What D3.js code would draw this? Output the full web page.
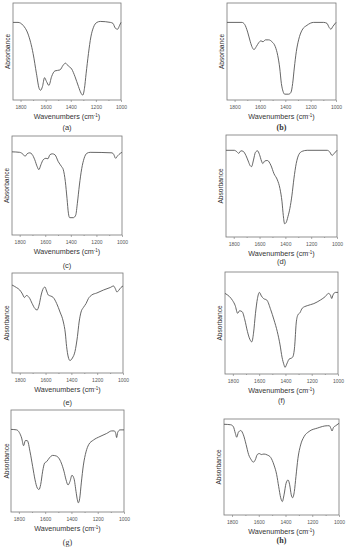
<!DOCTYPE html>
<html>
<head>
  <meta charset="UTF-8" />
  <script src="https://d3js.org/d3.v7.min.js"></script>
  <style>
    body { margin: 0; background: #fff; }
    text { font-family: Arial, "Liberation Sans", sans-serif; }
  </style>
</head>
<body>
  <script>
    // spectra: [wavenumber, relative signal (0 = bottom of frame, 100 = top)]
    var spectrumA = [[1860,80],[1820,80],[1780,77],[1740,68],[1700,48],[1673,27],[1652,12],[1641,10],[1625,14],[1609,23],[1593,19],[1574,15],[1553,24],[1526,30],[1486,31],[1460,36],[1443,38],[1419,35],[1393,32],[1366,24],[1339,14],[1318,7],[1304,5],[1291,12],[1278,27],[1259,48],[1240,65],[1219,75],[1192,80],[1165,81],[1085,80],[1064,79],[1045,74],[1027,73],[1011,77],[1000,80]];
    var spectrumB = [[1860,80],[1742,80],[1721,78],[1697,70],[1676,60],[1660,54],[1647,52],[1629,55],[1610,59],[1592,61],[1576,60],[1557,62],[1531,62],[1505,60],[1479,55],[1460,46],[1444,33],[1431,17],[1418,9],[1405,6],[1373,6],[1355,8],[1342,17],[1329,33],[1313,50],[1295,62],[1268,72],[1229,77],[1176,80],[1097,80],[1071,79],[1055,75],[1040,73],[1024,76],[1000,80]];
    var spectrumC = [[1860,84],[1800,83.5],[1773,81.5],[1758,79.5],[1742,82],[1721,83],[1703,81.5],[1682,76],[1663,69],[1650,66],[1634,71],[1616,76],[1595,77.5],[1579,77],[1564,81],[1545,82],[1524,81],[1498,74],[1472,69],[1459,66],[1443,54],[1430,37],[1419,22],[1409,17.5],[1380,17.5],[1362,20],[1349,32],[1333,50.5],[1315,67],[1296,77.5],[1275,82.5],[1249,83.5],[1078,83],[1065,81.5],[1050,77.5],[1034,80],[1013,82.5],[1000,83.5]];
    var spectrumD = [[1860,85],[1796,85],[1775,83.5],[1762,82],[1744,84.5],[1727,84],[1706,80],[1688,74.5],[1673,70],[1662,69],[1647,75.5],[1632,83],[1616,84.5],[1601,81],[1585,74.5],[1575,72],[1560,74.5],[1539,75],[1513,70.5],[1488,62],[1462,56],[1442,47.5],[1426,34.5],[1416,21],[1406,13],[1395,14],[1380,20],[1365,28],[1349,41],[1334,57],[1316,72],[1295,81],[1270,84],[1231,85],[1077,85],[1057,83.5],[1038,80],[1021,82],[1000,85]];
    var spectrumE = [[1860,88],[1826,85.5],[1800,83],[1779,79],[1764,75.5],[1748,77.5],[1727,75.5],[1704,69.5],[1683,64.5],[1665,63],[1650,68],[1634,78],[1618,84.5],[1605,86],[1592,82],[1579,78],[1561,77],[1540,75.5],[1514,69.5],[1488,61],[1462,51],[1447,40],[1437,26.5],[1424,16],[1411,12.5],[1392,15],[1372,21.5],[1353,36.5],[1340,51],[1325,61],[1307,65.5],[1286,69.5],[1268,74.5],[1242,78],[1203,80],[1151,83],[1099,85.5],[1073,87],[1060,84.5],[1047,81],[1031,83],[1016,85.5],[1000,87]];
    var spectrumF = [[1860,79],[1827,76],[1802,72],[1782,67],[1764,59.5],[1749,62],[1729,61],[1709,53],[1689,41.5],[1671,34],[1656,31.5],[1643,40],[1628,59.5],[1613,74],[1598,80],[1583,76.5],[1567,74],[1542,72.5],[1512,63],[1487,53],[1462,41.5],[1441,28.5],[1426,16.5],[1411,9],[1404,6.5],[1386,11],[1373,14.5],[1356,15.5],[1345,16.5],[1330,27],[1318,50],[1305,58],[1290,60],[1272,64.5],[1234,67],[1184,69],[1134,72.5],[1096,76],[1073,79],[1058,77.5],[1048,74],[1038,77.5],[1020,80],[1000,80]];
    var spectrumG = [[1860,81],[1817,80.5],[1797,78],[1779,72.5],[1764,65],[1751,70],[1736,70],[1715,59],[1695,44.5],[1677,31.5],[1660,23.5],[1647,22],[1634,27],[1619,40],[1604,48],[1588,49.5],[1568,53],[1543,55.5],[1518,55],[1497,53],[1477,48],[1457,40],[1441,31.5],[1426,26.5],[1411,30],[1396,36],[1380,32.5],[1365,20],[1355,12],[1347,9],[1337,13.5],[1325,28.5],[1309,46],[1289,59],[1269,66],[1233,70.5],[1183,74],[1132,77],[1094,79.5],[1074,79.5],[1063,77],[1056,73],[1048,78],[1030,80.5],[1000,80.5]];
    var spectrumH = [[1860,94.5],[1810,94],[1790,92],[1775,85],[1765,81],[1753,86],[1735,88],[1715,83.5],[1695,73.5],[1676,63],[1656,57.5],[1641,55],[1626,57.5],[1611,63],[1596,64],[1581,63],[1561,63.5],[1536,62.5],[1511,60],[1486,52],[1466,42],[1451,29.5],[1436,18],[1424,14],[1411,21],[1396,33],[1381,36.5],[1369,31.5],[1357,21],[1347,18],[1334,24.5],[1322,40],[1307,59],[1287,73],[1262,81.5],[1224,87],[1162,90.5],[1087,93],[1072,93],[1060,90],[1052,87.5],[1042,91],[1025,93],[1000,95.5]];

    var panelLabels = ["(a)", "(b)", "(c)", "(d)", "(e)", "(f)", "(g)", "(h)"];
    var majorTicks = [1800, 1600, 1400, 1200, 1000];
    var minorTicks = [1700, 1500, 1300, 1100];
    var spectra = [spectrumA, spectrumB, spectrumC, spectrumD, spectrumE, spectrumF, spectrumG, spectrumH];

    // frame of each panel: left, right, top, bottom, y of panel label, x of y title
    var frames = [
      { l: 13,  r: 121, t: 3,   b: 100, lab: 130, ya: 8 },
      { l: 227, r: 336, t: 3,   b: 100, lab: 130, ya: 222 },
      { l: 12,  r: 122, t: 136, b: 235, lab: 268, ya: 7 },
      { l: 226, r: 337, t: 135, b: 237, lab: 264, ya: 221 },
      { l: 12,  r: 123, t: 273, b: 373, lab: 405, ya: 7 },
      { l: 225, r: 338, t: 272, b: 374, lab: 403, ya: 220 },
      { l: 11,  r: 124, t: 410, b: 512, lab: 545, ya: 7 },
      { l: 224, r: 339, t: 419, b: 515, lab: 543, ya: 219 }
    ];
    var serifLabel = { "(b)": "bold", "(g)": "normal", "(h)": "bold" };

    var svg = d3.select("body").append("svg")
      .attr("width", 348)
      .attr("height", 550);

    spectra.forEach(function (data, i) {
      var f = frames[i];
      var x = d3.scaleLinear().domain([1860, 1000]).range([f.l, f.r]);
      var y = d3.scaleLinear().domain([0, 100]).range([f.b, f.t]);
      var g = svg.append("g");

      // frame
      g.append("rect")
        .attr("x", f.l).attr("y", f.t)
        .attr("width", f.r - f.l).attr("height", f.b - f.t)
        .attr("fill", "none").attr("stroke", "#777").attr("stroke-width", 0.8);

      // x axis
      var ax = g.append("g")
        .attr("transform", "translate(0," + f.b + ")")
        .call(d3.axisBottom(x).tickValues(majorTicks).tickFormat(d3.format("d"))
          .tickSize(2).tickPadding(3));
      ax.select(".domain").remove();
      ax.selectAll("line").attr("stroke", "#777").attr("stroke-width", 0.6);
      ax.selectAll("text").style("font-size", "5px").attr("fill", "#555")
        .style("font-family", "Arial, 'Liberation Sans', sans-serif");

      var mx = g.append("g")
        .attr("transform", "translate(0," + f.b + ")")
        .call(d3.axisBottom(x).tickValues(minorTicks).tickSize(1).tickFormat(""));
      mx.select(".domain").remove();
      mx.selectAll("line").attr("stroke", "#777").attr("stroke-width", 0.6);

      // titles
      var title = g.append("text")
        .attr("x", (f.l + f.r) / 2)
        .attr("y", f.b + 19)
        .attr("text-anchor", "middle")
        .attr("fill", "#333")
        .style("font-size", "7.2px");
      title.append("tspan").text("Wavenumbers (cm");
      title.append("tspan").text("-1").attr("dy", -2.5).style("font-size", "4.5px");
      title.append("tspan").text(")").attr("dy", 2.5);

      g.append("text")
        .attr("transform", "translate(" + (f.ya + 2) + "," + ((f.t + f.b) / 2) + ") rotate(-90)")
        .attr("text-anchor", "middle")
        .attr("fill", "#333")
        .style("font-size", "6.6px")
        .text("Absorbance");

      var lab = g.append("text")
        .attr("x", (f.l + f.r) / 2)
        .attr("y", f.lab)
        .attr("text-anchor", "middle")
        .attr("fill", "#333")
        .style("font-size", "7.5px")
        .text(panelLabels[i]);
      if (serifLabel[panelLabels[i]]) {
        lab.style("font-family", "'Liberation Serif', 'DejaVu Serif', serif")
          .style("font-weight", serifLabel[panelLabels[i]])
          .style("font-size", "8px");
      }

      // spectrum
      var line = d3.line()
        .x(function (d) { return x(d[0]); })
        .y(function (d) { return y(d[1]); })
        .curve(d3.curveMonotoneX);

      g.append("path")
        .datum(data)
        .attr("d", line)
        .attr("fill", "none")
        .attr("stroke", "#555")
        .attr("stroke-width", 0.9);
    });
  </script>
</body>
</html>
